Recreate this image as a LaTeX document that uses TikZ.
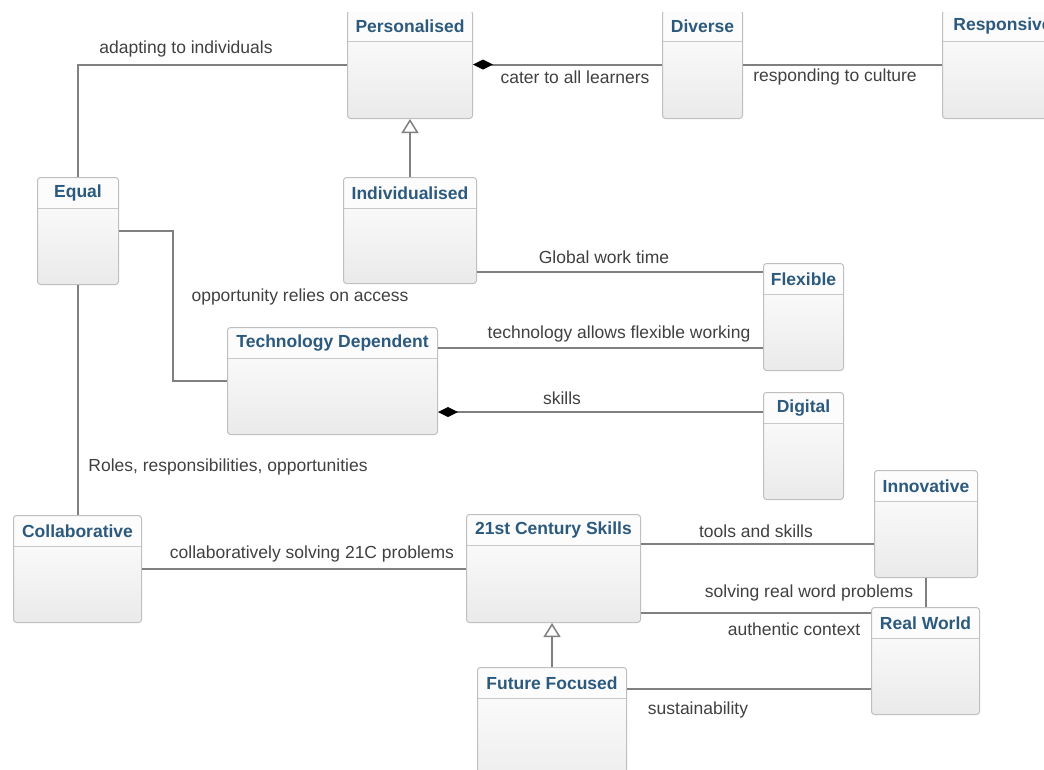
\documentclass[tikz,border=0pt]{standalone}
\usepackage{fontspec}
\setmainfont{Liberation Sans}
\usetikzlibrary{arrows.meta,calc}
\definecolor{boxline}{HTML}{BFBFBF}
\definecolor{boxbot}{HTML}{EAEAEA}
\definecolor{hdrfill}{HTML}{FCFCFC}
\definecolor{sepline}{HTML}{C8C8C8}
\definecolor{hdrtext}{HTML}{2B5A7E}
\definecolor{lbltext}{HTML}{404040}
\definecolor{connline}{HTML}{808080}
\tikzset{
  cls/.style={draw=boxline, line width=1pt, rounded corners=3pt,
    top color=white, bottom color=boxbot, anchor=north west, inner sep=0pt,
    path picture={
      \fill[hdrfill] (path picture bounding box.north west) rectangle ([yshift=-31pt]path picture bounding box.north east);
      \draw[sepline, line width=1pt] ([yshift=-31pt]path picture bounding box.north west) -- ([yshift=-31pt]path picture bounding box.north east);
    }},
  hdr/.style={font=\fontsize{17.5}{20}\selectfont\bfseries, text=hdrtext, inner sep=0pt},
  lbl/.style={font=\fontsize{17.5}{20}\selectfont, text=lbltext, inner sep=0pt},
  conn/.style={draw=connline, line width=2pt},
  comp/.style={{Diamond[length=20pt,width=10pt,color=black]}-},
  gen/.style={-{Triangle[open,length=14pt,width=17pt,fill=white,line width=1.5pt]}},
}
\newcommand\umlcls[6]{%
  \node[cls, minimum width=#4pt-#2pt, minimum height=#5pt-#3pt] (#1) at (#2,#3) {};
  \node[hdr] (#1-t) at ([yshift=-16pt]#1.north) {#6};}
\begin{document}
\begin{tikzpicture}[x=1pt,y=-1pt]
\useasboundingbox (0,0) rectangle (1044,769);
\clip (0,12) rectangle (1044,769);

\umlcls{pers}{347}{10}{472}{118}{Personalised}
\umlcls{div}{662}{10}{742}{118}{Diverse}
\umlcls{resp}{942}{10}{1062}{118}{Responsive}
\umlcls{equal}{37}{177}{118}{284}{Equal}
\umlcls{indiv}{343}{177}{476}{283}{Individualised}
\umlcls{flex}{763}{263}{843}{370}{Flexible}
\umlcls{td}{227}{327}{437}{434}{Technology Dependent}
\umlcls{dig}{763}{392}{843}{499}{Digital}
\umlcls{collab}{13}{515}{141}{622}{Collaborative}
\umlcls{c21}{466}{514}{640}{622}{21st Century Skills}
\umlcls{innov}{874}{470}{977}{577}{Innovative}
\umlcls{real}{871}{607}{979}{714}{Real World}
\umlcls{fut}{477}{667}{626}{800}{Future Focused}

% connectors
\draw[conn] (equal.north) |- (pers.west);
\draw[conn,comp] (pers.east) -- (div.west);
\draw[conn] (div.east) -- (resp.west);
\draw[conn,gen] (indiv.north) -- (pers.south);
\draw[conn] (equal.east) -- ++(54,0) coordinate (ec) |- (td.west);
\draw[conn] ([yshift=-95pt]indiv.north east) coordinate (a1) -- (a1 -| flex.west);
\draw[conn] ([yshift=-21pt]td.north east) coordinate (a2) -- (a2 -| flex.west);
\draw[conn,comp] ([yshift=-85pt]td.north east) coordinate (a3) -- (a3 -| dig.west);
\draw[conn] (equal.south) -- (equal.south |- collab.north);
\draw[conn] (collab.east) -- (collab.east -| c21.west);
\draw[conn] ([yshift=-30pt]c21.north east) coordinate (a4) -- (a4 -| innov.west);
\draw[conn] (innov.south) -- (innov.south |- real.north);
\draw[conn] ([yshift=-99pt]c21.north east) coordinate (a5) -- (a5 -| real.west);
\draw[conn,gen] (fut.north) -- (fut.north |- c21.south);
\draw[conn] ([yshift=-22pt]fut.north east) coordinate (a6) -- (a6 -| real.west);

% labels
\node[lbl] (l1) at (186,49) {adapting to individuals};
\node[lbl] (l2) at (575,77) {cater to all learners};
\node[lbl] (l3) at (835,77) {responding to culture};
\node[lbl] (l4) at (604,257) {Global work time};
\node[lbl] (l5) at (300,297) {opportunity relies on access};
\node[lbl] (l6) at (619,334) {technology allows flexible working};
\node[lbl] (l7) at (562,398) {skills};
\node[lbl] (l8) at (228,467) {Roles, responsibilities, opportunities};
\node[lbl] (l9) at (312,554) {collaboratively solving 21C problems};
\node[lbl] (l10) at (756,531) {tools and skills};
\node[lbl] (l11) at (809,593) {solving real word problems};
\node[lbl] (l12) at (794,629) {authentic context};
\node[lbl] (l13) at (698,710) {sustainability};
\end{tikzpicture}
\end{document}
